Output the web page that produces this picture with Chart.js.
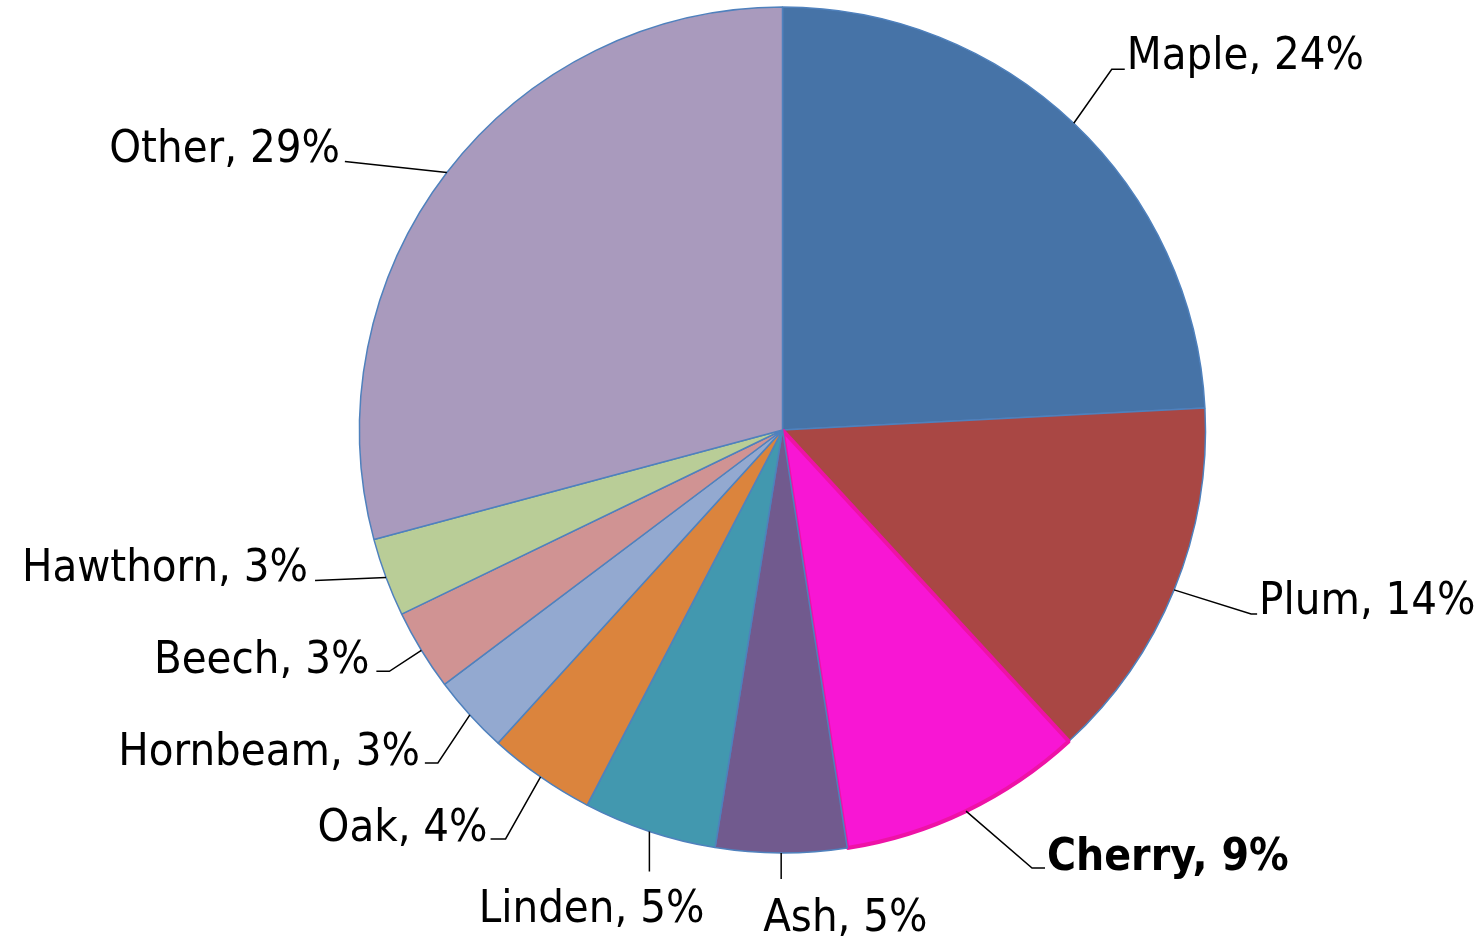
<!DOCTYPE html>
<html>
<head>
<meta charset="utf-8">
<script src="https://cdn.jsdelivr.net/npm/chart.js"></script>
<style>
  body { margin: 0; background: #fff; }
  #wrap { width: 1483px; height: 937px; position: relative; }
</style>
</head>
<body>
<div id="wrap"><canvas id="treeChart"></canvas></div>
<script>
const species = ['Maple', 'Plum', 'Cherry', 'Ash', 'Linden', 'Oak', 'Hornbeam', 'Beech', 'Hawthorn', 'Other'];
const shares = [24.2, 14.0, 9.4, 5.0, 5.1, 4.1, 3.0, 3.1, 3.0, 29.2];
const sliceColors = ['#4673a7', '#a94744', '#f816d4', '#715a8e', '#4298af', '#db843d', '#93a9d0', '#d09393', '#b9cd97', '#a99abd'];

// leader elbow relative to the slice edge, then text relative to the elbow
const labelLayout = [
    { ex: 38, ey: -54, tail: 13, align: 'left', tx: 15, ty: 0 },
    { ex: 77, ey: 24, tail: 6, align: 'left', tx: 8, ty: 0 },
    { ex: 66, ey: 57, tail: 13, align: 'left', tx: 15, ty: 2, bold: true },
    { ex: 0, ey: 26, tail: 0, align: 'left', tx: -18, ty: 52 },
    { ex: 0, ey: 40, tail: 0, align: 'right', tx: 55, ty: 50 },
    { ex: -35, ey: 62, tail: -15, align: 'right', tx: -18, ty: 2 },
    { ex: -32, ey: 48, tail: -13, align: 'right', tx: -18, ty: 2 },
    { ex: -32, ey: 21, tail: -13, align: 'right', tx: -20, ty: 2 },
    { ex: -71, ey: 3, tail: 0, align: 'right', tx: -7, ty: 0 },
    { ex: -102, ey: -11, tail: 0, align: 'right', tx: -5, ty: 0 }
];

const labelFont = '"DejaVu Sans Condensed", "DejaVu Sans", sans-serif';

const outsideLabels = {
    id: 'outsideLabels',
    afterDatasetsDraw(chart) {
        const ctx = chart.ctx;
        const meta = chart.getDatasetMeta(0);
        ctx.save();
        meta.data.forEach((arc, i) => {
            const p = arc.getProps(['x', 'y', 'startAngle', 'endAngle', 'outerRadius'], true);
            const mid = (p.startAngle + p.endAngle) / 2;
            const ax = p.x + Math.cos(mid) * p.outerRadius;
            const ay = p.y + Math.sin(mid) * p.outerRadius;
            const L = labelLayout[i];
            const exX = ax + L.ex, exY = ay + L.ey;
            ctx.strokeStyle = '#000';
            ctx.lineWidth = 1.5;
            ctx.beginPath();
            ctx.moveTo(ax, ay);
            ctx.lineTo(exX, exY);
            if (L.tail) ctx.lineTo(exX + L.tail, exY);
            ctx.stroke();
            ctx.fillStyle = '#000';
            ctx.font = (L.bold ? 'bold 44px ' : '45px ') + labelFont;
            ctx.textAlign = L.align;
            ctx.textBaseline = 'alphabetic';
            ctx.fillText(species[i] + ', ' + Math.round(shares[i]) + '%', exX + L.tx, exY + L.ty);
        });
        ctx.restore();
    }
};

new Chart(document.getElementById('treeChart'), {
    type: 'pie',
    data: {
        labels: species,
        datasets: [{
            data: shares,
            backgroundColor: sliceColors,
            borderColor: ['#4f81bd', '#4f81bd', '#ee12a6', '#4f81bd', '#4f81bd', '#4f81bd', '#4f81bd', '#4f81bd', '#4f81bd', '#4f81bd'],
            borderWidth: [1.5, 1.5, 4, 1.5, 1.5, 1.5, 1.5, 1.5, 1.5, 1.5],
            hoverOffset: 0
        }]
    },
    options: {
        responsive: true,
        maintainAspectRatio: false,
        animation: false,
        layout: { padding: { left: 357, right: 275, top: 5, bottom: 82 } },
        plugins: {
            legend: { display: false },
            tooltip: { enabled: false }
        }
    },
    plugins: [outsideLabels]
});
</script>
</body>
</html>
